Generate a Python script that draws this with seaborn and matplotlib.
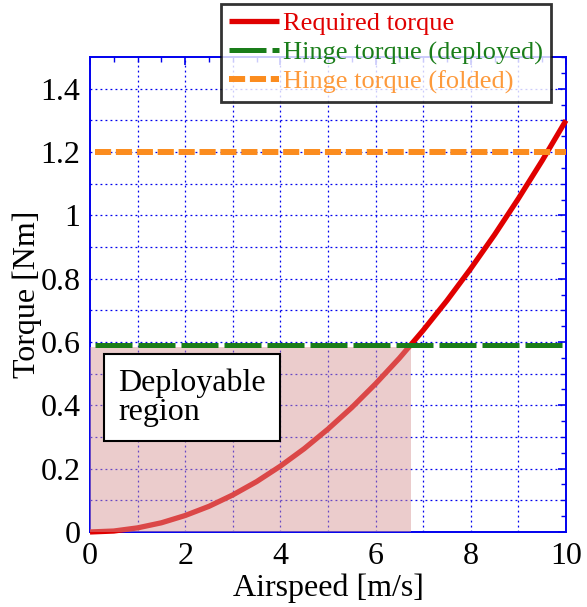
import numpy as np
import pandas as pd
import seaborn as sns
import matplotlib
matplotlib.use("Agg")
import matplotlib.pyplot as plt
from matplotlib.ticker import MultipleLocator, FormatStrFormatter

# Airspeed [m/s] and the torque needed to deploy the wing at that speed [Nm]
airspeed = [0.0, 0.5, 1.0, 1.5, 2.0, 2.5, 3.0, 3.5, 4.0, 4.5, 5.0,
            5.5, 6.0, 6.5, 7.0, 7.5, 8.0, 8.5, 9.0, 9.5, 10.0]
required_torque = [0.0, 0.003, 0.013, 0.029, 0.052, 0.081, 0.117, 0.159,
                   0.208, 0.263, 0.325, 0.393, 0.468, 0.549, 0.637, 0.731,
                   0.832, 0.939, 1.053, 1.173, 1.30]

# Hinge torque levels [Nm]
hinge_deployed = 0.59
hinge_folded = 1.20

# Deployable region limits
region_speed_max = 6.75
region_torque_max = 0.585

x_ticks = [0, 2, 4, 6, 8, 10]
y_ticks = [0, 0.2, 0.4, 0.6, 0.8, 1.0, 1.2, 1.4]

sns.set_style("white")
plt.rcParams["font.family"] = ["Liberation Serif", "DejaVu Serif"]
plt.rcParams["mathtext.fontset"] = "stix"
plt.rcParams["text.color"] = "black"
plt.rcParams["axes.labelcolor"] = "black"

fig = plt.figure(figsize=(5.87, 6.07), dpi=100)
ax = fig.add_axes([0.1533, 0.1236, 0.8109, 0.7824])

blue = "#0000ee"
red = "#e00000"
green = "#1a7d1a"
orange = "#fb8c1e"
orange_text = "#fd9a3c"

curve = pd.DataFrame({"speed": airspeed, "torque": required_torque})
sns.lineplot(data=curve, x="speed", y="torque", ax=ax, color=red,
             linewidth=3.8, label="Required torque", zorder=3,
             clip_on=False, solid_capstyle="butt", solid_joinstyle="round")

# Deployable region shading (drawn over the curve)
ax.fill_between([0, region_speed_max], 0, region_torque_max,
                color=(215 / 255, 150 / 255, 150 / 255), alpha=0.48,
                linewidth=0, zorder=4)

deployed = pd.DataFrame({"speed": [0.1, 10.0], "torque": [hinge_deployed] * 2})
sns.lineplot(data=deployed, x="speed", y="torque", ax=ax, color=green,
             linewidth=3.6, label="Hinge torque (deployed)", zorder=5,
             clip_on=False)
ax.lines[-1].set_dashes([7.4, 1.2])

folded = pd.DataFrame({"speed": [0.1, 10.0], "torque": [hinge_folded] * 2})
sns.lineplot(data=folded, x="speed", y="torque", ax=ax, color=orange,
             linewidth=4.3, label="Hinge torque (folded)", zorder=5,
             clip_on=False)
ax.lines[-1].set_dashes([2.7, 0.8])

ax.set_xlim(0, 10)
ax.set_ylim(0, 1.5)
ax.set_xticks(x_ticks)
ax.set_yticks(y_ticks)
ax.yaxis.set_major_formatter(FormatStrFormatter("%g"))
ax.xaxis.set_minor_locator(MultipleLocator(0.5))
ax.yaxis.set_minor_locator(MultipleLocator(0.05))

# dotted grid every 1 m/s and every 0.1 Nm
for xv in np.arange(1, 10):
    ax.axvline(xv, color=blue, linestyle=(0, (1.5, 2.5)), linewidth=0.9, zorder=1)
for yv in np.arange(0.1, 1.5, 0.1):
    ax.axhline(yv, color=blue, linestyle=(0, (1.5, 2.5)), linewidth=0.9, zorder=1)

for sp in ax.spines.values():
    sp.set_color(blue)
    sp.set_linewidth(1.4)

ax.tick_params(which="both", direction="in", top=True, right=True,
               color=blue, labelcolor="black", labelsize=23, pad=7)
ax.tick_params(which="major", length=6, width=1.2)
ax.tick_params(which="minor", length=3.5, width=1.0)

ax.set_xlabel("Airspeed [m/s]", fontsize=23, labelpad=2, color="black")
ax.set_ylabel("Torque [Nm]", fontsize=23, labelpad=-1, color="black")

ax.text(0.59, 0.425, "Deployable\nregion", fontsize=23, ha="left", va="center",
        linespacing=1.0, zorder=6, color="black",
        bbox=dict(boxstyle="square,pad=0.45", facecolor="white",
                  edgecolor="black", linewidth=1.5))

ax.get_legend().remove()
handles, labels = ax.get_legend_handles_labels()
leg = fig.legend(handles, labels, loc="upper right",
                 bbox_to_anchor=(551 / 587, 1 - 4 / 607),
                 fontsize=19, frameon=True, fancybox=False,
                 edgecolor="black", handlelength=1.9, handletextpad=0.15,
                 labelspacing=0.2, borderpad=0.3, borderaxespad=0)
leg.get_frame().set_linewidth(2.0)
for txt, col in zip(leg.get_texts(), [red, green, orange_text]):
    txt.set_color(col)

fig.savefig("out.png", dpi=100)
